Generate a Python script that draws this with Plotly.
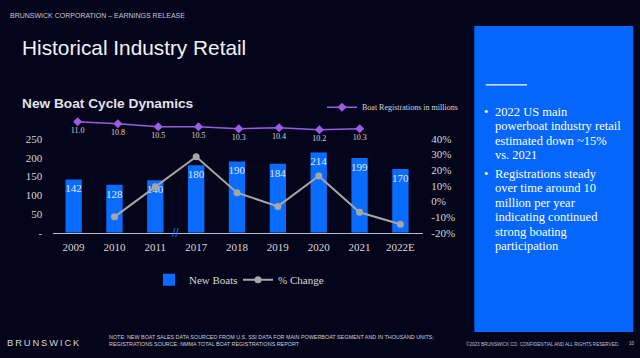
import plotly.graph_objects as go

# ---------------- data ----------------
years = ["2009", "2010", "2011", "2017", "2018", "2019", "2020", "2021", "2022E"]
new_boats = [142, 128, 140, 180, 190, 184, 214, 199, 170]
pct_years = ["2010", "2011", "2017", "2018", "2019", "2020", "2021", "2022E"]
pct_change = [-9.9, 9.4, 28.6, 5.6, -3.2, 16.3, -7.0, -14.6]
reg_years = ["2009", "2010", "2011", "2017", "2018", "2019", "2020", "2021"]
registrations = [11.0, 10.8, 10.5, 10.5, 10.3, 10.4, 10.2, 10.3]
left_ticks = [0, 50, 100, 150, 200, 250]
left_ticktext = ["-", "50", "100", "150", "200", "250"]
right_ticks = [-20, -10, 0, 10, 20, 30, 40]
right_ticktext = ["-20%", "-10%", "0%", "10%", "20%", "30%", "40%"]
bullets = [
    ["2022 US main", "powerboat industry retail", "estimated down ~15%", "vs. 2021"],
    ["Registrations steady", "over time around 10", "million per year",
     "indicating continued", "strong boating", "participation"],
]

# ---------------- style ----------------
W, H = 640, 358
BG = "#04041a"
BLUE = "#0a6cff"
PANEL = "#0566fb"
GRAY = "#a6a6a6"
PURPLE = "#9b5de5"
TXT = "#d9d9d9"
SERIF = "Liberation Serif"
SANS = "Liberation Sans"


def px(x):
    return x / W


def py(y):
    return 1 - y / H


fig = go.Figure()

fig.add_trace(go.Bar(
    x=years, y=new_boats, name="New Boats",
    marker=dict(color=BLUE, line=dict(width=0)),
    width=0.4,
    text=[str(v) for v in new_boats],
    textposition="inside", insidetextanchor="end", textangle=0,
    constraintext="none",
    textfont=dict(family=SERIF, size=11, color="#dfe8ff"),
    xaxis="x", yaxis="y", legend="legend",
))

fig.add_trace(go.Scatter(
    x=pct_years, y=pct_change, name="% Change",
    mode="lines+markers",
    line=dict(color=GRAY, width=2),
    marker=dict(color=GRAY, size=7, symbol="circle"),
    xaxis="x", yaxis="y2", legend="legend3",
))

fig.add_trace(go.Scatter(
    x=reg_years, y=registrations, name="Boat Registrations in millions",
    mode="lines+markers+text",
    line=dict(color=PURPLE, width=1.5),
    marker=dict(color=PURPLE, size=7, symbol="diamond"),
    text=[f"{v:.1f}" for v in registrations],
    textposition="bottom center",
    textfont=dict(family=SERIF, size=8, color=TXT),
    cliponaxis=False,
    xaxis="x2", yaxis="y3", legend="legend2",
))

leg_common = dict(orientation="h", xanchor="left", yanchor="middle",
                  bgcolor="rgba(0,0,0,0)", itemclick=False, itemdoubleclick=False)

fig.update_layout(
    width=W, height=H,
    margin=dict(l=0, r=0, t=0, b=0),
    paper_bgcolor=BG, plot_bgcolor="rgba(0,0,0,0)",
    font=dict(family=SERIF, color=TXT, size=11),
    xaxis=dict(
        domain=[px(53.2), px(423.3)], type="category",
        categoryorder="array", categoryarray=years,
        showline=True, linecolor="#bfbfbf", linewidth=1.3,
        showgrid=False, zeroline=False, ticks="",
        tickfont=dict(family=SERIF, size=11, color=TXT),
        anchor="y", fixedrange=True, ticklabelstandoff=4,
    ),
    xaxis2=dict(
        domain=[px(57.1), px(380.2)], type="category",
        categoryorder="array", categoryarray=reg_years,
        visible=False, anchor="y3",
    ),
    yaxis=dict(
        domain=[py(234.5), py(137.5)], range=[0, 250],
        tickvals=left_ticks, ticktext=left_ticktext,
        showgrid=False, zeroline=False, showline=False, ticks="",
        tickfont=dict(family=SERIF, size=11, color=TXT),
        anchor="x", ticklabelstandoff=10,
    ),
    yaxis2=dict(
        range=[-20, 40], overlaying="y", side="right",
        tickvals=right_ticks, ticktext=right_ticktext,
        showgrid=False, zeroline=False, showline=False, ticks="",
        tickfont=dict(family=SERIF, size=11, color=TXT),
        anchor="x", ticklabelstandoff=7,
    ),
    yaxis3=dict(
        domain=[py(135), py(115)], range=[9.529, 11.452],
        visible=False, anchor="x2",
    ),
    legend=dict(x=px(149), y=py(283.3),
                font=dict(family=SERIF, size=11, color=TXT), **leg_common),
    legend3=dict(x=px(238), y=py(283.3),
                 font=dict(family=SERIF, size=11, color=TXT), **leg_common),
    legend2=dict(x=px(322), y=py(104.7),
                 font=dict(family=SERIF, size=8, color=TXT), **leg_common),
    showlegend=True,
)

# right panel
fig.add_shape(type="rect", xref="paper", yref="paper",
              x0=px(474.3), x1=px(633.3), y0=py(337.3), y1=py(20.7),
              fillcolor=PANEL, line=dict(width=0), layer="below")
fig.add_shape(type="line", xref="paper", yref="paper",
              x0=px(485.7), x1=px(527), y0=py(81.7), y1=py(81.7),
              line=dict(color="white", width=1.3))

ann = []


def text(x, y, s, size, family=SANS, color=TXT, anchor="left"):
    ann.append(dict(x=px(x), y=py(y), xref="paper", yref="paper", text=s,
                    showarrow=False, xanchor=anchor, yanchor="middle",
                    font=dict(family=family, size=size, color=color)))


text(8, 10, "BRUNSWICK CORPORATION – EARNINGS RELEASE", 7, color="#c8c8d4")
text(20, 42.5, "Historical Industry Retail", 20.8, color="#f2f2f8")
text(20, 101, "<b>New Boat Cycle Dynamics</b>", 13.7, color="#e2e2ea")

y0 = 109.3
for bi, lines in enumerate(bullets):
    text(482, y0, "•", 12.5, family=SERIF, color="white")
    for li, s in enumerate(lines):
        text(493, y0 + li * 15, s, 12.5, family=SERIF, color="white")
    y0 += len(lines) * 15 + 4.5

text(5, 348.5, "\u2009".join("BRUNSWICK"), 9.4, color="#d4d4dc")
text(107, 342.7, "NOTE: NEW BOAT SALES DATA SOURCED FROM U.S. SSI DATA FOR MAIN POWERBOAT SEGMENT AND IN THOUSAND UNITS;",
     5.4, color="#d0d0da")
text(107, 350, "REGISTRATIONS SOURCE: NMMA TOTAL BOAT REGISTRATIONS REPORT", 5.4, color="#d0d0da")
text(464, 349.7, "©2023 BRUNSWICK CO. CONFIDENTIAL AND ALL RIGHTS RESERVED.", 4.6, color="#c0c0cc")
text(627, 349.7, "10", 4.6, color="#c0c0cc")

# axis break mark
ann.append(dict(x=2.5, y=0, xref="x", yref="y", text="//", showarrow=False,
                xanchor="center", yanchor="middle",
                font=dict(family=SANS, size=12, color="#1a6cff")))

fig.update_layout(annotations=ann)
fig.write_html("out.html", config={"displayModeBar": False},
               post_script="document.body.style.margin='0';document.body.style.background='%s';" % BG)
